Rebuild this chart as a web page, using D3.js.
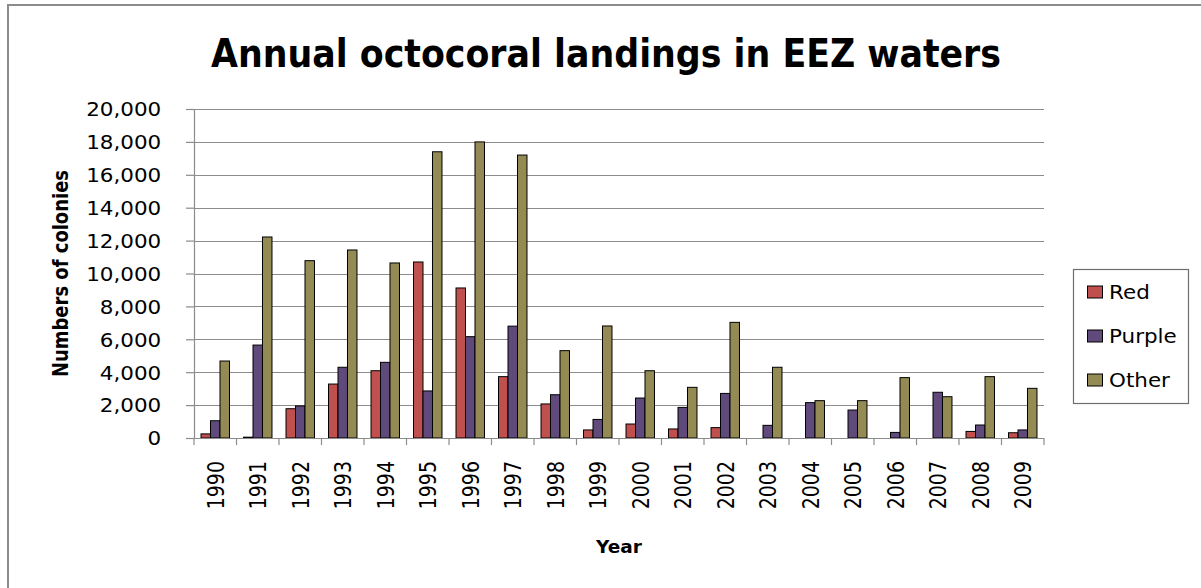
<!DOCTYPE html>
<html>
<head>
<meta charset="utf-8" />
<title>Annual octocoral landings in EEZ waters</title>
<script src="https://cdn.jsdelivr.net/npm/d3@7"></script>
<style>
  body { margin: 0; background: #fff; }
  text { font-family: "DejaVu Sans", sans-serif; fill: #000; }
</style>
</head>
<body>
<div id="chart"></div>
<script>
// values
var years = ["1990", "1991", "1992", "1993", "1994", "1995", "1996", "1997", "1998", "1999",
             "2000", "2001", "2002", "2003", "2004", "2005", "2006", "2007", "2008", "2009"];
var seriesNames = ["Red", "Purple", "Other"];
var seriesColors = ["#C0504D", "#604A7B", "#948A54"];
var red    = [250, 50, 1780, 3280, 4090, 10700, 9120, 3730, 2070, 490, 850, 550, 630, 0, 0, 0, 0, 0, 400, 320];
var purple = [1050, 5650, 1950, 4300, 4600, 2860, 6160, 6800, 2630, 1130, 2430, 1860, 2710, 770, 2150, 1700, 340, 2780, 790, 490];
var other  = [4680, 12220, 10780, 11430, 10640, 17400, 18000, 17200, 5310, 6810, 4090, 3080, 7030, 4300, 2270, 2270, 3670, 2510, 3730, 3020];
var yTicks = [0, 2000, 4000, 6000, 8000, 10000, 12000, 14000, 16000, 18000, 20000];

var width = 1201, height = 588;
var plotLeft = 194, plotRight = 1044, plotTop = 109, plotBottom = 438;
var sx = 1.13; // glyphs in the picture are a little wider than normal

var svg = d3.select("#chart").append("svg").attr("width", width).attr("height", height);

// outer chart border (only left and top edges visible)
svg.append("rect").attr("x", 8).attr("y", 5).attr("width", 1220).attr("height", 620)
  .attr("fill", "none").attr("stroke", "#8c8c8c").attr("stroke-width", 2);

var x0 = d3.scaleBand().domain(years).range([plotLeft, plotRight]).paddingInner(0.33).paddingOuter(0.165);
var xCat = d3.scaleBand().domain(years).range([plotLeft, plotRight]).paddingInner(0).paddingOuter(0);
var x1 = d3.scaleBand().domain(seriesNames).range([0, x0.bandwidth()]);
var y = d3.scaleLinear().domain([0, 20000]).range([plotBottom, plotTop]);

// gridlines
svg.append("g").selectAll("line").data(yTicks).enter().append("line")
  .attr("x1", plotLeft).attr("x2", plotRight)
  .attr("y1", function(d) { return Math.round(y(d)) + 0.5; })
  .attr("y2", function(d) { return Math.round(y(d)) + 0.5; })
  .attr("stroke", "#8c8c8c").attr("stroke-width", 1.2);

// bars
var rows = years.map(function(yr, i) { return { year: yr, vals: [red[i], purple[i], other[i]] }; });
var groups = svg.append("g").selectAll("g").data(rows).enter().append("g")
  .attr("transform", function(d) { return "translate(" + x0(d.year) + ",0)"; });
groups.selectAll("rect")
  .data(function(d) { return d.vals.map(function(v, k) { return { k: k, v: v }; }).filter(function(e) { return e.v > 0; }); })
  .enter().append("rect")
  .attr("x", function(d) { return x1(seriesNames[d.k]); })
  .attr("width", x1.bandwidth())
  .attr("y", function(d) { return y(d.v); })
  .attr("height", function(d) { return y(0) - y(d.v); })
  .attr("fill", function(d) { return seriesColors[d.k]; })
  .attr("stroke", "#000").attr("stroke-width", 1);

// y axis
var yAxis = svg.append("g").attr("transform", "translate(" + plotLeft + ",0)")
  .call(d3.axisLeft(y).tickValues(yTicks).tickFormat(d3.format(",")).tickSize(8).tickPadding(18));
yAxis.select(".domain").attr("stroke", "#8c8c8c").attr("stroke-width", 1.2);
yAxis.selectAll(".tick line").attr("stroke", "#8c8c8c").attr("stroke-width", 1.2);
yAxis.selectAll(".tick text").attr("font-size", 19).attr("font-family", "DejaVu Sans").attr("fill", "#000")
  .attr("dy", "0.36em")
  .attr("transform", function() { return "translate(" + (-26 * (sx - 1)) + ",0) scale(" + sx + ",1)"; });

// x axis: baseline, ticks at category boundaries, rotated labels
var xg = svg.append("g");
xg.append("line").attr("x1", plotLeft).attr("x2", plotRight).attr("y1", plotBottom + 0.5).attr("y2", plotBottom + 0.5)
  .attr("stroke", "#8c8c8c").attr("stroke-width", 1.2);
var bounds = years.map(function(d) { return xCat(d); }).concat([plotRight]);
xg.selectAll("line.tk").data(bounds).enter().append("line").attr("class", "tk")
  .attr("x1", function(d) { return d; }).attr("x2", function(d) { return d; })
  .attr("y1", plotBottom).attr("y2", plotBottom + 7)
  .attr("stroke", "#8c8c8c").attr("stroke-width", 1.2);
xg.selectAll("text").data(years).enter().append("text")
  .attr("transform", function(d) {
    return "translate(" + (xCat(d) + xCat.bandwidth() / 2) + ",461) scale(" + (sx + 0.1) + ",1) rotate(-90)";
  })
  .attr("text-anchor", "end").attr("dy", "0.36em").attr("font-size", 19)
  .text(function(d) { return d; });

// titles
svg.append("text").attr("x", 606).attr("y", 67).attr("text-anchor", "middle")
  .attr("font-family", "Lato").attr("font-weight", "bold").attr("font-size", 39)
  .attr("textLength", 790).attr("lengthAdjust", "spacingAndGlyphs")
  .text("Annual octocoral landings in EEZ waters");

svg.append("text").attr("transform", "translate(61," + ((plotTop + plotBottom) / 2) + ") scale(1.2,1) rotate(-90)")
  .attr("text-anchor", "middle").attr("dy", "0.36em")
  .attr("font-weight", "bold").attr("font-size", 17)
  .attr("textLength", 207).attr("lengthAdjust", "spacingAndGlyphs")
  .text("Numbers of colonies");

svg.append("text").attr("x", (plotLeft + plotRight) / 2).attr("y", 553).attr("text-anchor", "middle")
  .attr("font-weight", "bold").attr("font-size", 18.5)
  .text("Year");

// legend
var legend = svg.append("g");
legend.append("rect").attr("x", 1073.5).attr("y", 269.5).attr("width", 115).attr("height", 134)
  .attr("fill", "#fff").attr("stroke", "#6e6e6e").attr("stroke-width", 1.2);
var items = legend.selectAll("g").data(seriesNames).enter().append("g")
  .attr("transform", function(d, i) { return "translate(1087," + (292 + i * 44) + ")"; });
items.append("rect").attr("x", 0.5).attr("y", -6).attr("width", 15).attr("height", 12)
  .attr("fill", function(d, i) { return seriesColors[i]; }).attr("stroke", "#000").attr("stroke-width", 1);
items.append("text").attr("transform", "translate(22,0) scale(" + sx + ",1)")
  .attr("dy", "0.36em").attr("font-size", 19)
  .text(function(d) { return d; });
</script>
</body>
</html>
